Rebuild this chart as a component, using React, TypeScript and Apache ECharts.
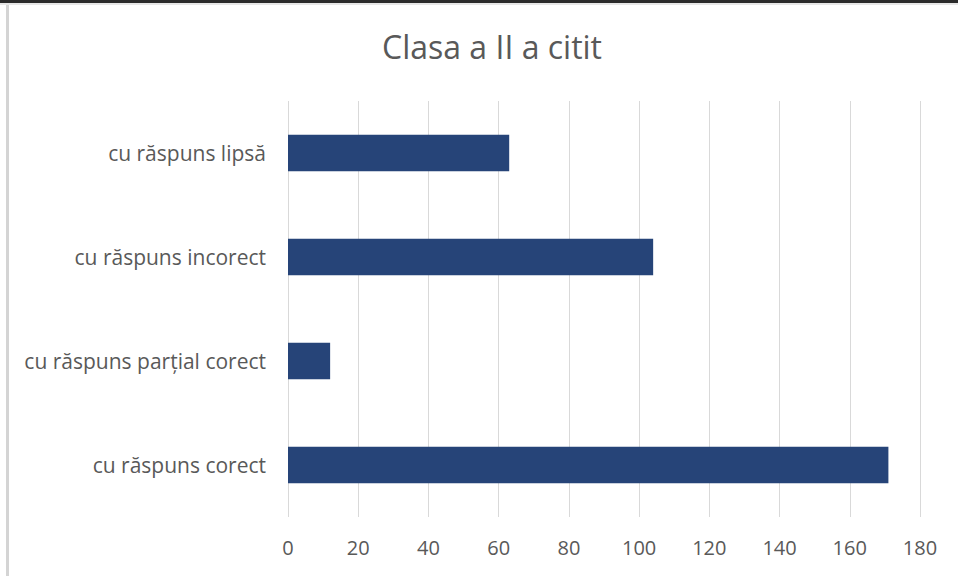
import React, { useEffect, useRef } from "react";
import * as echarts from "echarts";

const titleText = "Clasa a II a citit";
const categories = [
  "cu răspuns corect",
  "cu răspuns parțial corect",
  "cu răspuns incorect",
  "cu răspuns lipsă",
];
const values = [171, 12, 104, 63];
const axisMin = 0;
const axisMax = 180;
const axisStep = 20;

export default function App() {
  const ref = useRef<HTMLDivElement>(null);
  useEffect(() => {
    if (!ref.current) return;
    const chart = echarts.init(ref.current, null, { renderer: "svg" });
    const font = "'Open Sans', 'Noto Sans', sans-serif";
    chart.setOption({
      animation: false,
      backgroundColor: "#ffffff",
      title: {
        text: titleText,
        left: 487,
        textAlign: "center",
        top: 25,
        textStyle: {
          fontFamily: font,
          fontSize: 32,
          fontWeight: "normal",
          color: "#595959",
        },
      },
      graphic: [
        { type: "rect", shape: { x: 0, y: 0, width: 958, height: 3 }, style: { fill: "#2b2b2b" }, silent: true },
        { type: "rect", shape: { x: 0, y: 3, width: 958, height: 2 }, style: { fill: "#e6e6e6" }, silent: true },
        { type: "rect", shape: { x: 6, y: 5, width: 3, height: 571 }, style: { fill: "#d4d4d4" }, silent: true },
      ],
      grid: { left: 288, right: 38, top: 101, bottom: 59, containLabel: false },
      xAxis: {
        type: "value",
        min: axisMin,
        max: axisMax,
        interval: axisStep,
        axisLine: { show: false },
        axisTick: { show: false },
        splitLine: { show: true, lineStyle: { color: "#d9d9d9", width: 1 } },
        axisLabel: {
          fontFamily: font,
          fontSize: 20,
          color: "#595959",
          margin: 20,
        },
      },
      yAxis: {
        type: "category",
        data: categories,
        axisLine: { show: false },
        axisTick: { show: false },
        axisLabel: {
          fontFamily: font,
          fontSize: 21,
          color: "#595959",
          margin: 22,
        },
      },
      series: [
        {
          type: "bar",
          data: values,
          barWidth: "35%",
          itemStyle: { color: "#264478" },
        },
      ],
    });
    return () => chart.dispose();
  }, []);
  return (
    <div
      ref={ref}
      style={{ position: "fixed", left: 0, top: 0, width: 958, height: 576 }}
    />
  );
}
